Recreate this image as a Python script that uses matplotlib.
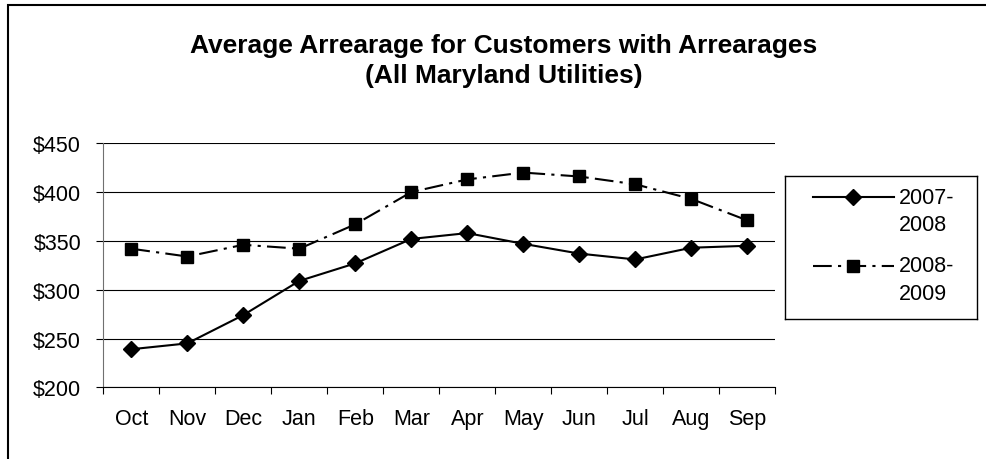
import matplotlib
matplotlib.use("Agg")
import matplotlib.pyplot as plt
from matplotlib.lines import Line2D
from matplotlib.ticker import FuncFormatter, FixedLocator

months = ["Oct", "Nov", "Dec", "Jan", "Feb", "Mar", "Apr", "May", "Jun", "Jul", "Aug", "Sep"]
s2007 = [239, 245, 274, 309, 327, 352, 358, 347, 337, 331, 343, 345]
s2008 = [342, 334, 346, 342, 367, 400, 413, 420, 416, 408, 393, 371]
yticks = [200, 250, 300, 350, 400, 450]
title = "Average Arrearage for Customers with Arrearages\n(All Maryland Utilities)"
labels = ["2007-\n2008", "2008-\n2009"]

W, H = 986, 460
plt.rcParams['font.family'] = ['Liberation Sans', 'DejaVu Sans']
fig = plt.figure(figsize=(W / 100, H / 100), dpi=100)

# outer chart frame (extends past right/bottom edges)
frame = plt.Rectangle((8 / W, -0.1), 1.2, 1 - 6 / H + 0.1, transform=fig.transFigure,
                      fill=False, edgecolor="black", linewidth=1.5, zorder=0)
fig.patches.append(frame)

FS = 15.5
L, R, T, B = 103.3, 775.3, 144.3, 388.3
ax = fig.add_axes([L / W, (H - B) / H, (R - L) / W, (B - T) / H])
x = list(range(len(months)))
dash = (0, (9, 3, 1.5, 3))
ax.plot(x, s2007, color="black", lw=1.5, marker="D", ms=8, zorder=3)
ax.plot(x, s2008, color="black", lw=1.5, ls=dash, marker="s", ms=8, zorder=3)

ax.set_xlim(-0.5, len(months) - 0.5)
ax.set_ylim(200, 450)
ax.set_yticks(yticks)
ax.yaxis.set_major_formatter(FuncFormatter(lambda v, p: f"${v:.0f}"))
ax.grid(axis="y", color="black", lw=0.8)
ax.set_axisbelow(True)
ax.set_xticks(x)
ax.set_xticklabels(months)
ax.xaxis.set_minor_locator(FixedLocator([i - 0.5 for i in range(len(months) + 1)]))
ax.tick_params(axis="x", which="major", length=0, pad=15, labelsize=FS)
ax.tick_params(axis="x", which="minor", length=5, width=0.8, direction="out")
ax.tick_params(axis="y", length=5, width=0.8, pad=11, labelsize=FS)
for s in ["top", "right"]:
    ax.spines[s].set_visible(False)
ax.spines["left"].set_color("#707070")
ax.spines["left"].set_linewidth(0.8)
ax.spines["bottom"].set_linewidth(0.8)

fig.text(504 / W, 1 - 61 / H, title, ha="center", va="center", fontsize=19,
         fontweight="bold", linespacing=1.3)

# legend box
lx0, ly0, lx1, ly1 = 785, 177, 977, 320
lax = fig.add_axes([lx0 / W, (H - ly1) / H, (lx1 - lx0) / W, (ly1 - ly0) / H])
lax.set_xlim(0, lx1 - lx0)
lax.set_ylim(ly1 - ly0, 0)
lax.set_xticks([])
lax.set_yticks([])
for s in lax.spines.values():
    s.set_linewidth(1)
lax.add_line(Line2D([28, 68, 109], [21, 21, 21], color="black", lw=1.5,
                    marker="D", ms=8, markevery=[1]))
lax.add_line(Line2D([28, 68, 109], [90, 90, 90], color="black", lw=1.5, ls=dash,
                    marker="s", ms=8, markevery=[1]))
lax.text(114, 21, labels[0].split("\n")[0], va="center", ha="left", fontsize=FS)
lax.text(114, 49, labels[0].split("\n")[1], va="center", ha="left", fontsize=FS)
lax.text(114, 90, labels[1].split("\n")[0], va="center", ha="left", fontsize=FS)
lax.text(114, 118, labels[1].split("\n")[1], va="center", ha="left", fontsize=FS)

fig.savefig("out.png", dpi=100)
